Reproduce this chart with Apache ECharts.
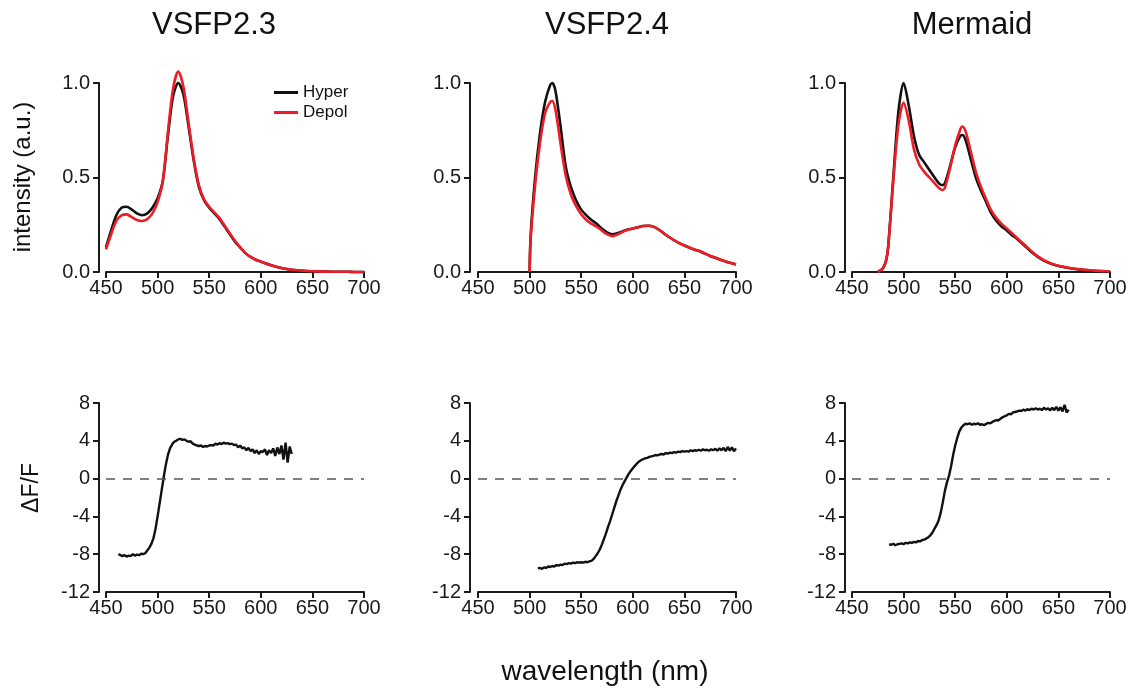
<!DOCTYPE html>
<html><head><meta charset="utf-8">
<script src="https://cdn.jsdelivr.net/npm/echarts@6/dist/echarts.min.js"></script>
<style>html,body{margin:0;padding:0;background:#fff}#c{width:1132px;height:691px}</style>
</head><body><div id="c"></div>
<script>
// ---------------- data ----------------
const panelTitles = ['VSFP2.3', 'VSFP2.4', 'Mermaid'];
const xTicks = [450, 500, 550, 600, 650, 700];
const intensityTicks = [0.0, 0.5, 1.0];
const dffTicks = [-12, -8, -4, 0, 4, 8];

// top row: emission spectra (intensity, a.u.)
const vsfp23Wl = [450,455,460,465,470,475,480,485,490,495,500,505,510,515,520,525,530,535,540,545,550,555,560,565,570,575,580,585,590,595,600,605,610,615,620,625,630,635,640,645,650,655,660,665,670,675,680,685,690,695,700];
const vsfp23Hyper = [0.13,0.22,0.30,0.34,0.345,0.33,0.31,0.30,0.31,0.34,0.39,0.48,0.72,0.93,1.00,0.94,0.77,0.59,0.45,0.38,0.34,0.31,0.28,0.24,0.20,0.16,0.13,0.10,0.08,0.065,0.055,0.045,0.036,0.028,0.021,0.016,0.012,0.009,0.007,0.005,0.004,0.003,0.002,0.002,0.001,0.001,0.001,0.001,0,0,0];
const vsfp23Depol = [0.12,0.20,0.27,0.30,0.305,0.29,0.275,0.27,0.28,0.31,0.37,0.48,0.74,0.97,1.06,0.98,0.79,0.60,0.46,0.385,0.345,0.315,0.285,0.245,0.205,0.165,0.13,0.10,0.08,0.065,0.055,0.045,0.036,0.028,0.021,0.016,0.012,0.009,0.007,0.005,0.004,0.003,0.002,0.002,0.001,0.001,0.001,0.001,0,0,0];

const vsfp24Wl = [500,501,505,510,515,520,522,525,530,535,540,545,550,555,560,565,570,575,580,585,590,595,600,605,610,615,620,625,630,635,640,645,650,655,660,665,670,675,680,685,690,695,700];
const vsfp24Hyper = [0,0.19,0.48,0.73,0.90,0.99,1.0,0.96,0.77,0.56,0.45,0.38,0.33,0.30,0.275,0.255,0.23,0.21,0.20,0.205,0.215,0.225,0.23,0.237,0.243,0.245,0.24,0.225,0.205,0.185,0.168,0.153,0.14,0.128,0.118,0.11,0.097,0.085,0.075,0.065,0.055,0.047,0.04];
const vsfp24Depol = [0,0.17,0.44,0.68,0.84,0.90,0.905,0.86,0.68,0.51,0.41,0.35,0.305,0.275,0.255,0.24,0.22,0.20,0.19,0.198,0.212,0.223,0.23,0.237,0.243,0.245,0.24,0.225,0.205,0.185,0.168,0.153,0.14,0.128,0.118,0.11,0.097,0.085,0.075,0.065,0.055,0.047,0.04];

const mermaidWl = [475,480,483,485,490,495,500,505,510,515,520,525,530,535,538,540,545,550,555,557,560,565,570,575,580,585,590,595,600,605,610,615,620,625,630,635,640,645,650,655,660,665,670,675,680,685,690,695,700];
const mermaidHyper = [0,0.02,0.06,0.13,0.50,0.85,1.0,0.88,0.72,0.62,0.58,0.54,0.50,0.465,0.46,0.47,0.56,0.66,0.72,0.725,0.70,0.60,0.50,0.43,0.37,0.31,0.27,0.24,0.22,0.195,0.175,0.15,0.125,0.10,0.08,0.063,0.05,0.04,0.032,0.026,0.021,0.017,0.014,0.011,0.008,0.006,0.005,0.004,0.003];
const mermaidDepol = [0,0.02,0.06,0.13,0.48,0.78,0.895,0.80,0.65,0.57,0.53,0.50,0.47,0.44,0.434,0.445,0.55,0.67,0.755,0.77,0.745,0.64,0.53,0.45,0.385,0.325,0.285,0.255,0.23,0.205,0.18,0.155,0.13,0.105,0.083,0.065,0.052,0.041,0.033,0.027,0.022,0.018,0.015,0.012,0.009,0.007,0.005,0.004,0.003];

// bottom row: dF/F (%), sampled every 2 nm from the given start wavelength
const dffStep = 2;
const vsfp23DffStart = 462;
const vsfp23Dff = [-8.0,-8.1,-8.2,-8.1,-8.25,-8.15,-8.2,-8.0,-8.15,-8.05,
 -8.1,-7.95,-8.0,-7.9,-7.6,-7.3,-6.9,-6.3,-5.3,-4.0,
 -2.6,-1.2,0.2,1.5,2.5,3.2,3.6,3.9,4.0,4.15,
 4.2,4.1,4.15,4.0,3.9,3.95,3.7,3.6,3.5,3.45,
 3.5,3.35,3.45,3.4,3.5,3.55,3.5,3.7,3.6,3.75,
 3.65,3.8,3.7,3.75,3.65,3.7,3.55,3.6,3.3,3.5,
 3.2,3.3,3.0,3.25,2.9,3.1,2.7,3.0,2.6,2.9,
 2.8,3.1,2.5,3.0,2.7,3.2,2.4,3.3,2.6,3.5,
 2.0,3.8,1.7,3.4,2.6];
const vsfp24DffStart = 508;
const vsfp24Dff = [-9.5,-9.45,-9.55,-9.4,-9.45,-9.3,-9.35,-9.25,-9.3,-9.15,
 -9.2,-9.1,-9.15,-9.0,-9.05,-8.95,-9.0,-8.9,-8.95,-8.85,
 -8.9,-8.85,-8.9,-8.8,-8.85,-8.75,-8.7,-8.5,-8.2,-7.9,
 -7.5,-7.0,-6.4,-5.8,-5.1,-4.5,-3.8,-3.1,-2.4,-1.8,
 -1.2,-0.7,-0.3,0.1,0.5,0.8,1.1,1.35,1.6,1.8,
 1.95,2.05,2.15,2.2,2.3,2.35,2.4,2.5,2.45,2.55,
 2.6,2.55,2.7,2.65,2.75,2.7,2.8,2.75,2.85,2.8,
 2.9,2.85,2.9,2.85,3.0,2.9,3.0,2.95,3.05,2.95,
 3.1,3.0,3.05,2.95,3.1,3.0,3.15,2.95,3.2,3.0,
 3.25,2.9,3.35,2.95,3.3,2.9,3.2];
const mermaidDffStart = 486;
const mermaidDff = [-6.95,-7.0,-6.9,-7.05,-6.95,-6.9,-6.85,-6.95,-6.8,-6.85,
 -6.75,-6.8,-6.7,-6.75,-6.6,-6.65,-6.5,-6.45,-6.35,-6.2,
 -6.0,-5.7,-5.3,-4.9,-4.4,-3.6,-2.5,-1.3,-0.4,0.3,
 1.3,2.5,3.5,4.3,5.0,5.4,5.65,5.8,5.75,5.85,
 5.7,5.8,5.75,5.85,5.7,5.75,5.65,5.8,5.9,5.85,
 6.0,6.1,6.2,6.15,6.35,6.5,6.6,6.7,6.85,6.8,
 7.0,7.05,7.1,7.2,7.15,7.3,7.2,7.35,7.25,7.4,
 7.3,7.45,7.3,7.4,7.25,7.5,7.3,7.45,7.2,7.5,
 7.25,7.6,7.2,7.55,7.1,7.8,7.0,7.3];

// ---------------- chart ----------------
const FONT = "'Liberation Sans', Arial, Helvetica, sans-serif";
const AX = '#1a1a1a';
const BLACK = '#111111';
const RED = '#ee1c24';

const topSpectra = [
  [vsfp23Wl, vsfp23Hyper, vsfp23Depol],
  [vsfp24Wl, vsfp24Hyper, vsfp24Depol],
  [mermaidWl, mermaidHyper, mermaidDepol]
];
const bottomDff = [
  [vsfp23DffStart, vsfp23Dff],
  [vsfp24DffStart, vsfp24Dff],
  [mermaidDffStart, mermaidDff]
];

const colLeft = [106, 478, 852];
const yOffset = [7, 8, 7];
const plotW = 258;
const rowTop = [83, 403];
const plotH = 189;

const zip = (xs, ys) => ys.map((v, i) => [xs[i], v]);
const dffPairs = (start, ys) => ys.map((v, i) => [start + i * dffStep, v]);

const grids = [], xAxes = [], yAxes = [], series = [];
const lbl = { fontSize: 20, color: AX, fontFamily: FONT };
const axLine = { show: true, onZero: false, lineStyle: { color: AX, width: 2 } };
const axTick = { show: true, length: 6, lineStyle: { color: AX, width: 2 } };

for (let r = 0; r < 2; r++) {
  for (let c = 0; c < 3; c++) {
    const gi = r * 3 + c;
    grids.push({ left: colLeft[c], top: rowTop[r], width: plotW, height: plotH });
    xAxes.push({
      type: 'value', gridIndex: gi, min: xTicks[0], max: xTicks[xTicks.length - 1], interval: 50,
      axisLine: axLine, axisTick: axTick,
      axisLabel: Object.assign({ margin: 6, showMinLabel: true, showMaxLabel: true }, lbl),
      splitLine: { show: false }
    });
    const yBase = {
      type: 'value', gridIndex: gi, offset: yOffset[c],
      axisLine: axLine, axisTick: axTick, splitLine: { show: false }
    };
    if (r === 0) {
      yAxes.push(Object.assign({}, yBase, {
        min: intensityTicks[0], max: intensityTicks[intensityTicks.length - 1], interval: 0.5,
        axisLabel: Object.assign({ margin: 9, formatter: v => v.toFixed(1) }, lbl)
      }));
    } else {
      yAxes.push(Object.assign({}, yBase, {
        min: dffTicks[0], max: dffTicks[dffTicks.length - 1], interval: 4,
        axisLabel: Object.assign({ margin: 9 }, lbl)
      }));
    }
    if (r === 0) {
      const [wl, hy, de] = topSpectra[c];
      series.push({
        name: 'Hyper', type: 'line', xAxisIndex: gi, yAxisIndex: gi, data: zip(wl, hy),
        showSymbol: false, smooth: 0.3, clip: false, silent: true,
        lineStyle: { color: BLACK, width: 2.6 }, itemStyle: { color: BLACK }, z: 3
      });
      series.push({
        name: 'Depol', type: 'line', xAxisIndex: gi, yAxisIndex: gi, data: zip(wl, de),
        showSymbol: false, smooth: 0.3, clip: false, silent: true,
        lineStyle: { color: RED, width: 2.6 }, itemStyle: { color: RED }, z: 4
      });
    } else {
      const [st, vals] = bottomDff[c];
      series.push({
        name: 'dF/F ' + panelTitles[c], type: 'line', xAxisIndex: gi, yAxisIndex: gi, data: dffPairs(st, vals),
        showSymbol: false, clip: false, silent: true,
        lineStyle: { color: BLACK, width: 2.4 }, itemStyle: { color: BLACK }, z: 4,
        markLine: {
          silent: true, symbol: ['none', 'none'], label: { show: false },
          lineStyle: { color: '#555', width: 1.5, type: [9, 8] },
          data: [[{ coord: [xTicks[0], 0] }, { coord: [xTicks[xTicks.length - 1], 0] }]]
        }
      });
    }
  }
}

const titleX = [214, 607, 972];
const graphic = panelTitles.map((t, i) => ({
  type: 'text', x: titleX[i], y: 25,
  style: { text: t, fontSize: 31, fontFamily: FONT, fill: '#111', textAlign: 'center', textVerticalAlign: 'middle' }
}));
graphic.push({
  type: 'text', x: 23, y: 177, rotation: Math.PI / 2,
  style: { text: 'intensity (a.u.)', fontSize: 24, fontFamily: FONT, fill: '#111', textAlign: 'center', textVerticalAlign: 'middle' }
});
graphic.push({
  type: 'text', x: 32, y: 488, rotation: Math.PI / 2,
  style: { text: 'ΔF/F', fontSize: 23, fontFamily: FONT, fill: '#111', textAlign: 'center', textVerticalAlign: 'middle' }
});
graphic.push({
  type: 'text', x: 605, y: 672,
  style: { text: 'wavelength (nm)', fontSize: 28, fontFamily: FONT, fill: '#111', textAlign: 'center', textVerticalAlign: 'middle' }
});

const chart = echarts.init(document.getElementById('c'), null, { renderer: 'canvas' });
chart.setOption({
  backgroundColor: '#ffffff',
  animation: false,
  grid: grids, xAxis: xAxes, yAxis: yAxes, series: series,
  legend: {
    data: ['Hyper', 'Depol'], orient: 'vertical', left: 269, top: 79,
    icon: 'rect', itemWidth: 24, itemHeight: 3, itemGap: 3,
    textStyle: { fontSize: 17, color: '#111', fontFamily: FONT },
    selectedMode: false
  },
  graphic: graphic
});
</script>
</body></html>
